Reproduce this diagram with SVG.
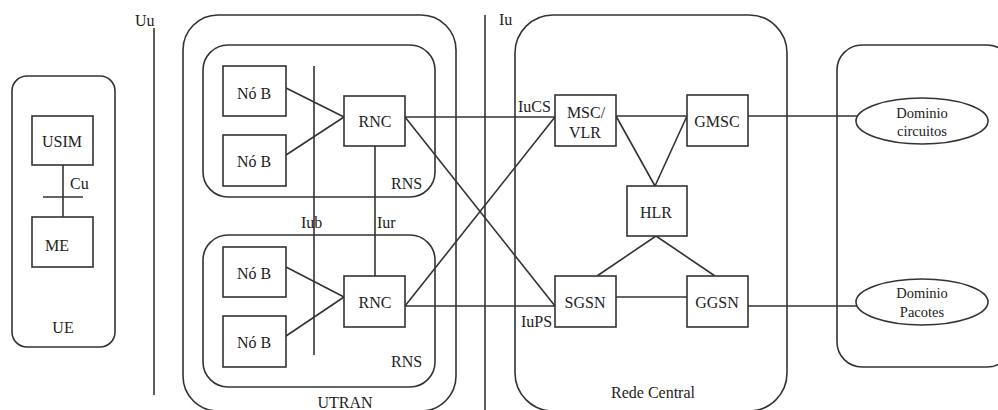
<svg xmlns="http://www.w3.org/2000/svg" width="998" height="410" viewBox="0 0 998 410">
<style>
.b{fill:#fff;stroke:#333;stroke-width:1.6}
.c{fill:none;stroke:#333;stroke-width:1.6}
text{font-family:"Times New Roman",Times,"Liberation Serif","Noto Serif","DejaVu Serif",serif;font-size:16px;fill:#222}
.m{text-anchor:middle}
.s{font-size:14.5px}
</style>
<rect width="998" height="410" fill="#fff"/>
<g id="ue">
<rect class="b" x="12" y="76" width="103" height="271" rx="15"/>
<text class="m" x="63" y="333">UE</text>
</g>
<g id="utran">
<rect class="b" x="183" y="15" width="273" height="396" rx="35"/>
<text class="m" x="345" y="408">UTRAN</text>
</g>
<g id="rede-central">
<rect class="b" x="515" y="15" width="272" height="396" rx="38"/>
<text class="m" x="653" y="398">Rede Central</text>
</g>
<g id="dominios">
<rect class="b" x="837" y="45" width="175" height="322" rx="25"/>
</g>
<g id="rns1">
<rect class="b" x="203" y="45" width="232" height="152" rx="25"/>
<text x="391" y="189">RNS</text>
</g>
<g id="rns2">
<rect class="b" x="203" y="235" width="232" height="152" rx="25"/>
<text x="391" y="367">RNS</text>
</g>
<g id="connectors">
<line class="c" x1="154" y1="28" x2="154" y2="395"/>
<line class="c" x1="485" y1="15" x2="485" y2="410"/>
<line class="c" x1="63" y1="165" x2="63" y2="217"/>
<line class="c" x1="43" y1="197" x2="83" y2="197"/>
<line class="c" x1="314" y1="66" x2="314" y2="355"/>
<line class="c" x1="375" y1="146" x2="375" y2="276"/>
<line class="c" x1="286" y1="88" x2="344" y2="117"/>
<line class="c" x1="286" y1="155" x2="344" y2="117"/>
<line class="c" x1="286" y1="267" x2="344" y2="297"/>
<line class="c" x1="286" y1="336" x2="344" y2="297"/>
<line class="c" x1="405" y1="117" x2="555" y2="117"/>
<line class="c" x1="405" y1="117" x2="555" y2="306"/>
<line class="c" x1="405" y1="306" x2="555" y2="117"/>
<line class="c" x1="405" y1="306" x2="555" y2="306"/>
<line class="c" x1="616" y1="116" x2="687" y2="116"/>
<line class="c" x1="748" y1="116" x2="858" y2="116"/>
<line class="c" x1="616" y1="116" x2="655" y2="186"/>
<line class="c" x1="687" y1="116" x2="655" y2="186"/>
<line class="c" x1="656" y1="236" x2="597" y2="276"/>
<line class="c" x1="656" y1="236" x2="715" y2="276"/>
<line class="c" x1="616" y1="297" x2="687" y2="297"/>
<line class="c" x1="748" y1="306" x2="858" y2="306"/>
</g>
<g id="usim"><rect class="b" x="32" y="116" width="61" height="49"/><text class="m" x="62" y="147">USIM</text></g>
<g id="me"><rect class="b" x="32" y="217" width="61" height="50"/><text x="45" y="251">ME</text></g>
<g id="nob1"><rect class="b" x="223" y="66" width="63" height="50"/><text class="m" x="254" y="99">Nó B</text></g>
<g id="nob2"><rect class="b" x="223" y="135" width="63" height="51"/><text class="m" x="254" y="167">Nó B</text></g>
<g id="nob3"><rect class="b" x="223" y="247" width="63" height="50"/><text class="m" x="254" y="279">Nó B</text></g>
<g id="nob4"><rect class="b" x="223" y="316" width="63" height="51"/><text class="m" x="254" y="348">Nó B</text></g>
<g id="rnc1"><rect class="b" x="344" y="96" width="61" height="50"/><text class="m" x="375" y="127">RNC</text></g>
<g id="rnc2"><rect class="b" x="344" y="276" width="61" height="51"/><text class="m" x="375" y="308">RNC</text></g>
<g id="msc"><rect class="b" x="555" y="95" width="61" height="51"/><text class="m" x="586" y="118">MSC/</text><text class="m" x="585" y="138">VLR</text></g>
<g id="gmsc"><rect class="b" x="687" y="95" width="61" height="51"/><text class="m" x="717" y="127">GMSC</text></g>
<g id="hlr"><rect class="b" x="627" y="186" width="60" height="50"/><text class="m" x="656" y="218">HLR</text></g>
<g id="sgsn"><rect class="b" x="555" y="276" width="61" height="51"/><text class="m" x="585" y="308">SGSN</text></g>
<g id="ggsn"><rect class="b" x="687" y="276" width="61" height="51"/><text class="m" x="717" y="308">GGSN</text></g>
<g id="dom-circuitos"><ellipse class="b" cx="922" cy="121" rx="66" ry="23"/><text class="m s" x="922" y="118">Dominio</text><text class="m s" x="922" y="136">circuitos</text></g>
<g id="dom-pacotes"><ellipse class="b" cx="922" cy="302" rx="66" ry="23"/><text class="m s" x="922" y="298">Dominio</text><text class="m s" x="922" y="317">Pacotes</text></g>
<g id="labels">
<text x="135" y="26">Uu</text>
<text x="499" y="25">Iu</text>
<text x="70" y="189">Cu</text>
<text x="301" y="228">Iub</text>
<text x="377" y="228">Iur</text>
<text x="518" y="112">IuCS</text>
<text x="521" y="327">IuPS</text>
</g>
</svg>
